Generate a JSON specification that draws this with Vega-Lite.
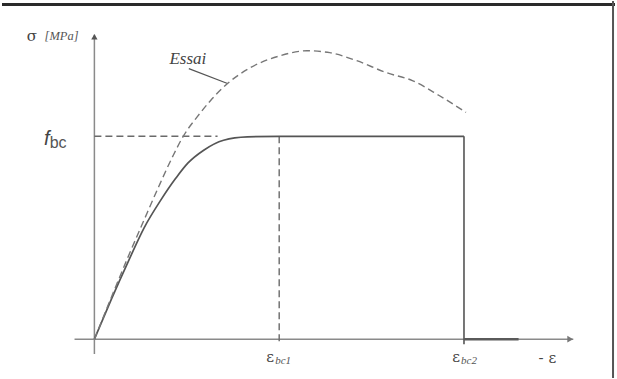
{
  "$schema": "https://vega.github.io/schema/vega-lite/v6.json",
  "width": 617,
  "height": 379,
  "autosize": {"type": "fit", "contains": "padding"},
  "padding": 0,
  "background": "white",
  "config": {"view": {"stroke": null}},
  "datasets": {
    "curves": [
      {"g": "design", "o": 0, "x": 0, "y": 0},
      {"g": "design", "o": 1, "x": 0.183, "y": 3.92},
      {"g": "design", "o": 2, "x": 0.366, "y": 7.65},
      {"g": "design", "o": 3, "x": 0.538, "y": 10.98},
      {"g": "design", "o": 4, "x": 0.72, "y": 13.73},
      {"g": "design", "o": 5, "x": 0.882, "y": 15.88},
      {"g": "design", "o": 6, "x": 1.011, "y": 17.35},
      {"g": "design", "o": 7, "x": 1.183, "y": 18.63},
      {"g": "design", "o": 8, "x": 1.398, "y": 19.61},
      {"g": "design", "o": 9, "x": 1.656, "y": 19.95},
      {"g": "design", "o": 10, "x": 2, "y": 20},
      {"g": "design", "o": 11, "x": 4, "y": 20},
      {"g": "essai", "o": 0, "x": 0, "y": 0},
      {"g": "essai", "o": 1, "x": 0.183, "y": 4.12},
      {"g": "essai", "o": 2, "x": 0.366, "y": 8.14},
      {"g": "essai", "o": 3, "x": 0.538, "y": 11.76},
      {"g": "essai", "o": 4, "x": 0.699, "y": 15.1},
      {"g": "essai", "o": 5, "x": 0.849, "y": 18.04},
      {"g": "essai", "o": 6, "x": 0.968, "y": 20.1},
      {"g": "essai", "o": 7, "x": 1.108, "y": 21.86},
      {"g": "essai", "o": 8, "x": 1.258, "y": 23.53},
      {"g": "essai", "o": 9, "x": 1.441, "y": 25.2},
      {"g": "essai", "o": 10, "x": 1.688, "y": 26.76},
      {"g": "essai", "o": 11, "x": 2.011, "y": 27.94},
      {"g": "essai", "o": 12, "x": 2.301, "y": 28.43},
      {"g": "essai", "o": 13, "x": 2.548, "y": 28.24},
      {"g": "essai", "o": 14, "x": 2.839, "y": 27.45},
      {"g": "essai", "o": 15, "x": 3.161, "y": 26.27},
      {"g": "essai", "o": 16, "x": 3.441, "y": 25.49},
      {"g": "essai", "o": 17, "x": 3.731, "y": 24.02},
      {"g": "essai", "o": 18, "x": 4.022, "y": 22.35}
    ],
    "rules": [
      {"g": "axis", "x": -0.215, "y": 0, "x2": 5.183, "y2": 0},
      {"g": "axis", "x": 0, "y": -1.47, "x2": 0, "y2": 30.0},
      {"g": "dash", "x": 0, "y": 20, "x2": 1.333, "y2": 20},
      {"g": "dash", "x": 2, "y": 20, "x2": 2, "y2": -0.49},
      {"g": "solid", "x": 4, "y": 20, "x2": 4, "y2": -0.49},
      {"g": "tail", "x": 4, "y": 0, "x2": 4.591, "y2": 0},
      {"g": "leader", "x": 1.022, "y": 26.67, "x2": 1.441, "y2": 25.2},
      {"g": "frameTop", "x": -1, "y": 32.99, "x2": 5.6344, "y2": 32.99},
      {"g": "frameRight", "x": 5.613, "y": -3.8235, "x2": 5.613, "y2": 33.333}
    ],
    "arrows": [
      {"g": "right", "x": 5.15, "y": 0},
      {"g": "up", "x": 0, "y": 29.8}
    ],
    "labels": [
      {"s": "sym", "x": -0.677, "y": 29.9, "t": "σ"},
      {"s": "unit", "x": -0.355, "y": 29.9, "t": "[MPa]"},
      {"s": "essai", "x": 1.011, "y": 27.65, "t": "Essai"},
      {"s": "f", "x": -0.516, "y": 19.7, "t": "f"},
      {"s": "bc", "x": -0.392, "y": 19.3, "t": "bc"},
      {"s": "sym", "x": 1.903, "y": -1.76, "t": "ε"},
      {"s": "sub", "x": 1.957, "y": -2.16, "t": "bc1"},
      {"s": "sym", "x": 3.914, "y": -1.76, "t": "ε"},
      {"s": "sub", "x": 3.968, "y": -2.16, "t": "bc2"},
      {"s": "sym", "x": 4.903, "y": -1.86, "t": "- ε"}
    ]
  },
  "encoding": {
    "x": {"field": "x", "type": "quantitative", "scale": {"domain": [-1, 5.6344], "nice": false, "zero": false}, "axis": null},
    "y": {"field": "y", "type": "quantitative", "scale": {"domain": [-3.8235, 33.333], "nice": false, "zero": false}, "axis": null}
  },
  "layer": [
    {
      "data": {"name": "rules"},
      "transform": [{"filter": "datum.g === 'frameTop'"}],
      "mark": {"type": "rule", "color": "#2a2a2a", "strokeWidth": 3},
      "encoding": {"x2": {"field": "x2"}, "y2": {"field": "y2"}}
    },
    {
      "data": {"name": "rules"},
      "transform": [{"filter": "datum.g === 'frameRight'"}],
      "mark": {"type": "rule", "color": "#555", "strokeWidth": 2},
      "encoding": {"x2": {"field": "x2"}, "y2": {"field": "y2"}}
    },
    {
      "data": {"name": "rules"},
      "transform": [{"filter": "datum.g === 'axis'"}],
      "mark": {"type": "rule", "color": "#8a8a8a", "strokeWidth": 1.5},
      "encoding": {"x2": {"field": "x2"}, "y2": {"field": "y2"}}
    },
    {
      "data": {"name": "rules"},
      "transform": [{"filter": "datum.g === 'dash'"}],
      "mark": {"type": "rule", "color": "#6a6a6a", "strokeWidth": 1.4, "strokeDash": [7, 4]},
      "encoding": {"x2": {"field": "x2"}, "y2": {"field": "y2"}}
    },
    {
      "data": {"name": "rules"},
      "transform": [{"filter": "datum.g === 'solid'"}],
      "mark": {"type": "rule", "color": "#555", "strokeWidth": 1.6},
      "encoding": {"x2": {"field": "x2"}, "y2": {"field": "y2"}}
    },
    {
      "data": {"name": "rules"},
      "transform": [{"filter": "datum.g === 'tail'"}],
      "mark": {"type": "rule", "color": "#5a5a5a", "strokeWidth": 2.4},
      "encoding": {"x2": {"field": "x2"}, "y2": {"field": "y2"}}
    },
    {
      "data": {"name": "rules"},
      "transform": [{"filter": "datum.g === 'leader'"}],
      "mark": {"type": "rule", "color": "#555", "strokeWidth": 1.2},
      "encoding": {"x2": {"field": "x2"}, "y2": {"field": "y2"}}
    },
    {
      "data": {"name": "curves"},
      "transform": [{"filter": "datum.g === 'design'"}],
      "mark": {"type": "line", "color": "#555", "strokeWidth": 1.7, "interpolate": "monotone"},
      "encoding": {"order": {"field": "o", "type": "quantitative"}}
    },
    {
      "data": {"name": "curves"},
      "transform": [{"filter": "datum.g === 'essai'"}],
      "mark": {"type": "line", "color": "#777", "strokeWidth": 1.4, "strokeDash": [7, 4], "interpolate": "monotone"},
      "encoding": {"order": {"field": "o", "type": "quantitative"}}
    },
    {
      "data": {"name": "arrows"},
      "transform": [{"filter": "datum.g === 'right'"}],
      "mark": {"type": "point", "shape": "triangle-right", "filled": true, "color": "#777", "size": 45, "opacity": 1},
      "encoding": {}
    },
    {
      "data": {"name": "arrows"},
      "transform": [{"filter": "datum.g === 'up'"}],
      "mark": {"type": "point", "shape": "triangle-up", "filled": true, "color": "#555", "size": 40, "opacity": 1},
      "encoding": {}
    },
    {
      "data": {"name": "labels"},
      "transform": [{"filter": "datum.s === 'sym'"}],
      "mark": {"type": "text", "font": "DejaVu Serif", "fontSize": 15, "color": "#444", "align": "center", "baseline": "middle"},
      "encoding": {"text": {"field": "t"}}
    },
    {
      "data": {"name": "labels"},
      "transform": [{"filter": "datum.s === 'unit'"}],
      "mark": {"type": "text", "font": "Liberation Serif", "fontStyle": "italic", "fontSize": 12.5, "color": "#555", "align": "center", "baseline": "middle"},
      "encoding": {"text": {"field": "t"}}
    },
    {
      "data": {"name": "labels"},
      "transform": [{"filter": "datum.s === 'essai'"}],
      "mark": {"type": "text", "font": "Liberation Serif", "fontStyle": "italic", "fontSize": 17, "color": "#444", "align": "center", "baseline": "middle"},
      "encoding": {"text": {"field": "t"}}
    },
    {
      "data": {"name": "labels"},
      "transform": [{"filter": "datum.s === 'sub'"}],
      "mark": {"type": "text", "font": "Liberation Serif", "fontStyle": "italic", "fontSize": 11, "color": "#555", "align": "left", "baseline": "middle"},
      "encoding": {"text": {"field": "t"}}
    },
    {
      "data": {"name": "labels"},
      "transform": [{"filter": "datum.s === 'f'"}],
      "mark": {"type": "text", "font": "Liberation Sans", "fontStyle": "italic", "fontSize": 20, "color": "#444", "align": "center", "baseline": "middle"},
      "encoding": {"text": {"field": "t"}}
    },
    {
      "data": {"name": "labels"},
      "transform": [{"filter": "datum.s === 'bc'"}],
      "mark": {"type": "text", "font": "Liberation Sans", "fontSize": 16, "color": "#555", "align": "center", "baseline": "middle"},
      "encoding": {"text": {"field": "t"}}
    }
  ]
}
